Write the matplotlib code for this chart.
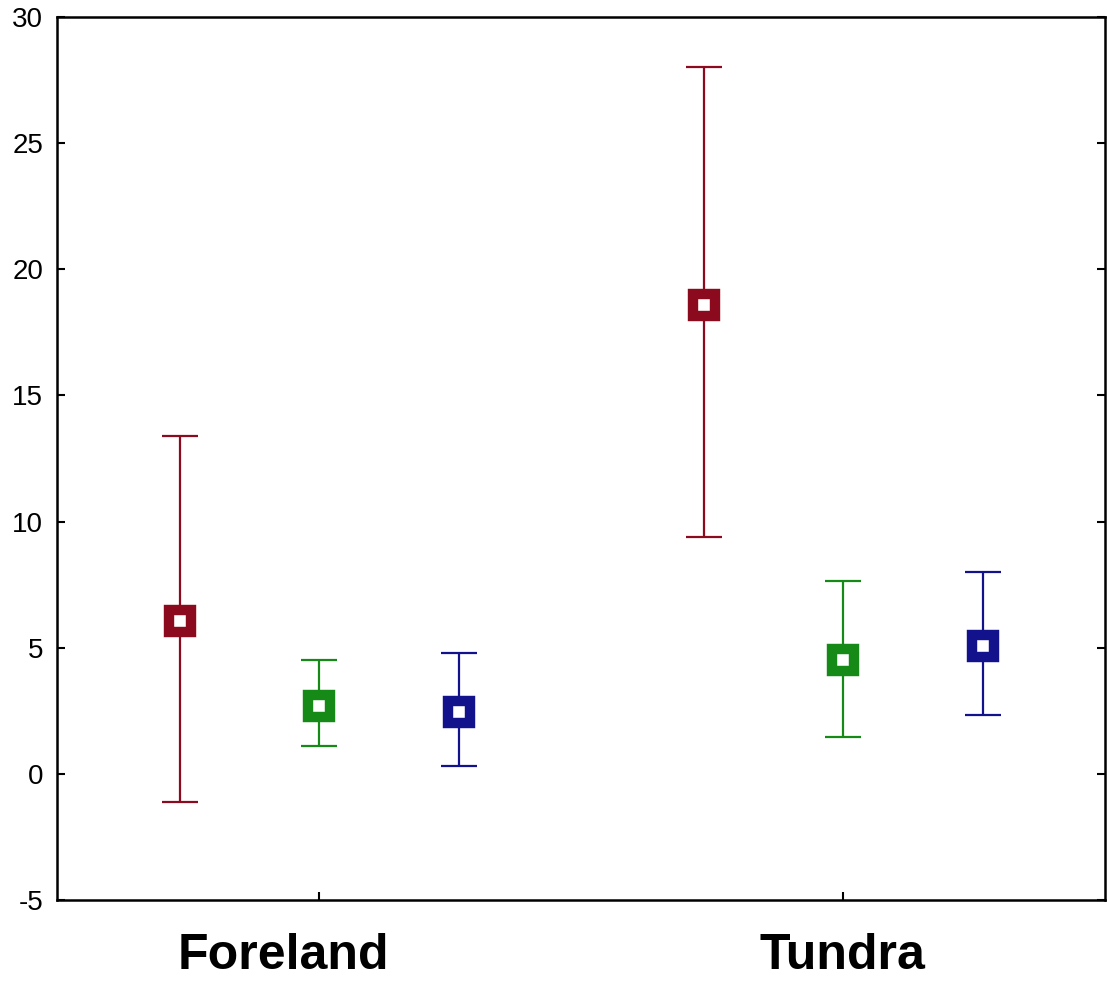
import numpy as np
import matplotlib.pyplot as plt
import matplotlib.transforms as mtransforms

plt.rcParams['font.family'] = ['Liberation Sans', 'DejaVu Sans']
plt.rcParams['axes.unicode_minus'] = False

categories = ['Foreland', 'Tundra']
colors = ['#8c0a1e', '#168a16', '#12128c']
offsets = [-0.265, 0.0, 0.268]

# means and interval bounds for each of the three series
means = [[6.05, 18.6], [2.7, 4.5], [2.45, 5.05]]
upper = [[13.4, 28.0], [4.5, 7.65], [4.8, 8.0]]
lower = [[-1.1, 9.4], [1.1, 1.47], [0.3, 2.35]]

fig = plt.figure(figsize=(11.07, 9.84), dpi=100)
ax = fig.add_axes([0.0515, 0.0854, 0.9465, 0.8973])

x = np.arange(len(categories))
for i in range(3):
    m = np.array(means[i])
    lo = m - np.array(lower[i])
    hi = np.array(upper[i]) - m
    ax.errorbar(x + offsets[i], m, yerr=[lo, hi], fmt='none',
                ecolor=colors[i], elinewidth=1.6, capsize=13, capthick=1.6, zorder=2)
    ax.plot(x + offsets[i], m, 's', linestyle='none', markersize=16,
            markeredgewidth=7.5, markerfacecolor='white',
            markeredgecolor=colors[i], zorder=3)

ax.set_xlim(-0.5, 1.5)
ax.set_ylim(-5, 30)
ax.set_yticks(np.arange(-5, 31, 5))
ax.set_xticks(x)
ax.set_xticklabels(categories, fontsize=36, fontweight='bold')
ax.tick_params(axis='x', direction='in', length=6, width=1.5, pad=24, top=False)
ax.tick_params(axis='y', direction='in', length=6, width=1.5, labelsize=20, right=True, pad=10)
for s in ax.spines.values():
    s.set_linewidth(1.8)

# first category label sits a bit left of its tick in the original
lab = ax.get_xticklabels()[0]
lab.set_transform(lab.get_transform() + mtransforms.ScaledTranslation(-0.36, 0, fig.dpi_scale_trans))

fig.savefig('out.png', dpi=100)
